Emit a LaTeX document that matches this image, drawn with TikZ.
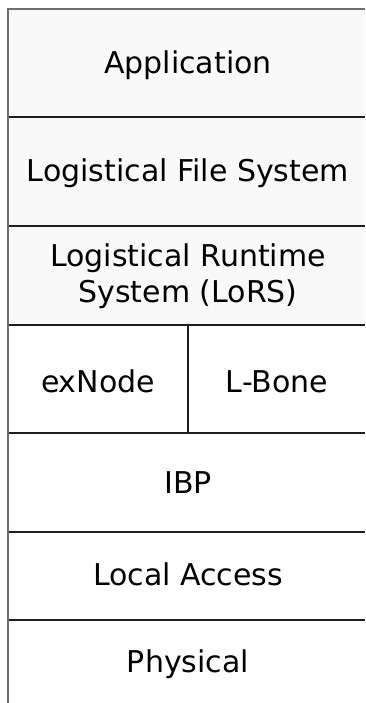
\documentclass[tikz,border=0pt]{standalone}
\usepackage{fontspec}
\setmainfont{DejaVu Sans}
\definecolor{layerfill}{HTML}{F9F9F9}
\definecolor{edgegray}{HTML}{6E6E6E}
\definecolor{sepline}{HTML}{1E1E1E}
\begin{document}
\begin{tikzpicture}[x=1pt,y=-1pt,
  lbl/.style={anchor=base,inner sep=0pt,font=\fontsize{30}{36}\selectfont},
  sep/.style={draw=sepline,line width=1.6pt},
  frame/.style={draw=edgegray,line width=2.2pt}]
\useasboundingbox (0,0) rectangle (365,703);
\fill[layerfill] (8,9) rectangle (365,325);
% separators
\draw[sep] (8,117) -- (365,117);
\draw[sep] (8,226) -- (365,226);
\draw[sep] (8,325) -- (365,325);
\draw[sep] (8,433) -- (365,433);
\draw[sep] (8,532) -- (365,532);
\draw[sep] (8,620) -- (365,620);
\draw[sep] (188,325) -- (188,433);
% frame
\draw[frame] (8,703) -- (8,9) -- (365,9);
% labels
\node[lbl] (app) at (188,74) {Application};
\node[lbl] (lfs) at (188,182) {Logistical File System};
\node[lbl] (lors1) at (188,266) {Logistical Runtime};
\node[lbl] (lors2) at (188,302) {System (LoRS)};
\node[lbl] (exn) at (98,392) {exNode};
\node[lbl] (lbone) at (277,392) {L-Bone};
\node[lbl] (ibp) at (188,493) {IBP};
\node[lbl] (local) at (188,585) {Local Access};
\node[lbl] (phys) at (188,672) {Physical};
\end{tikzpicture}
\end{document}
